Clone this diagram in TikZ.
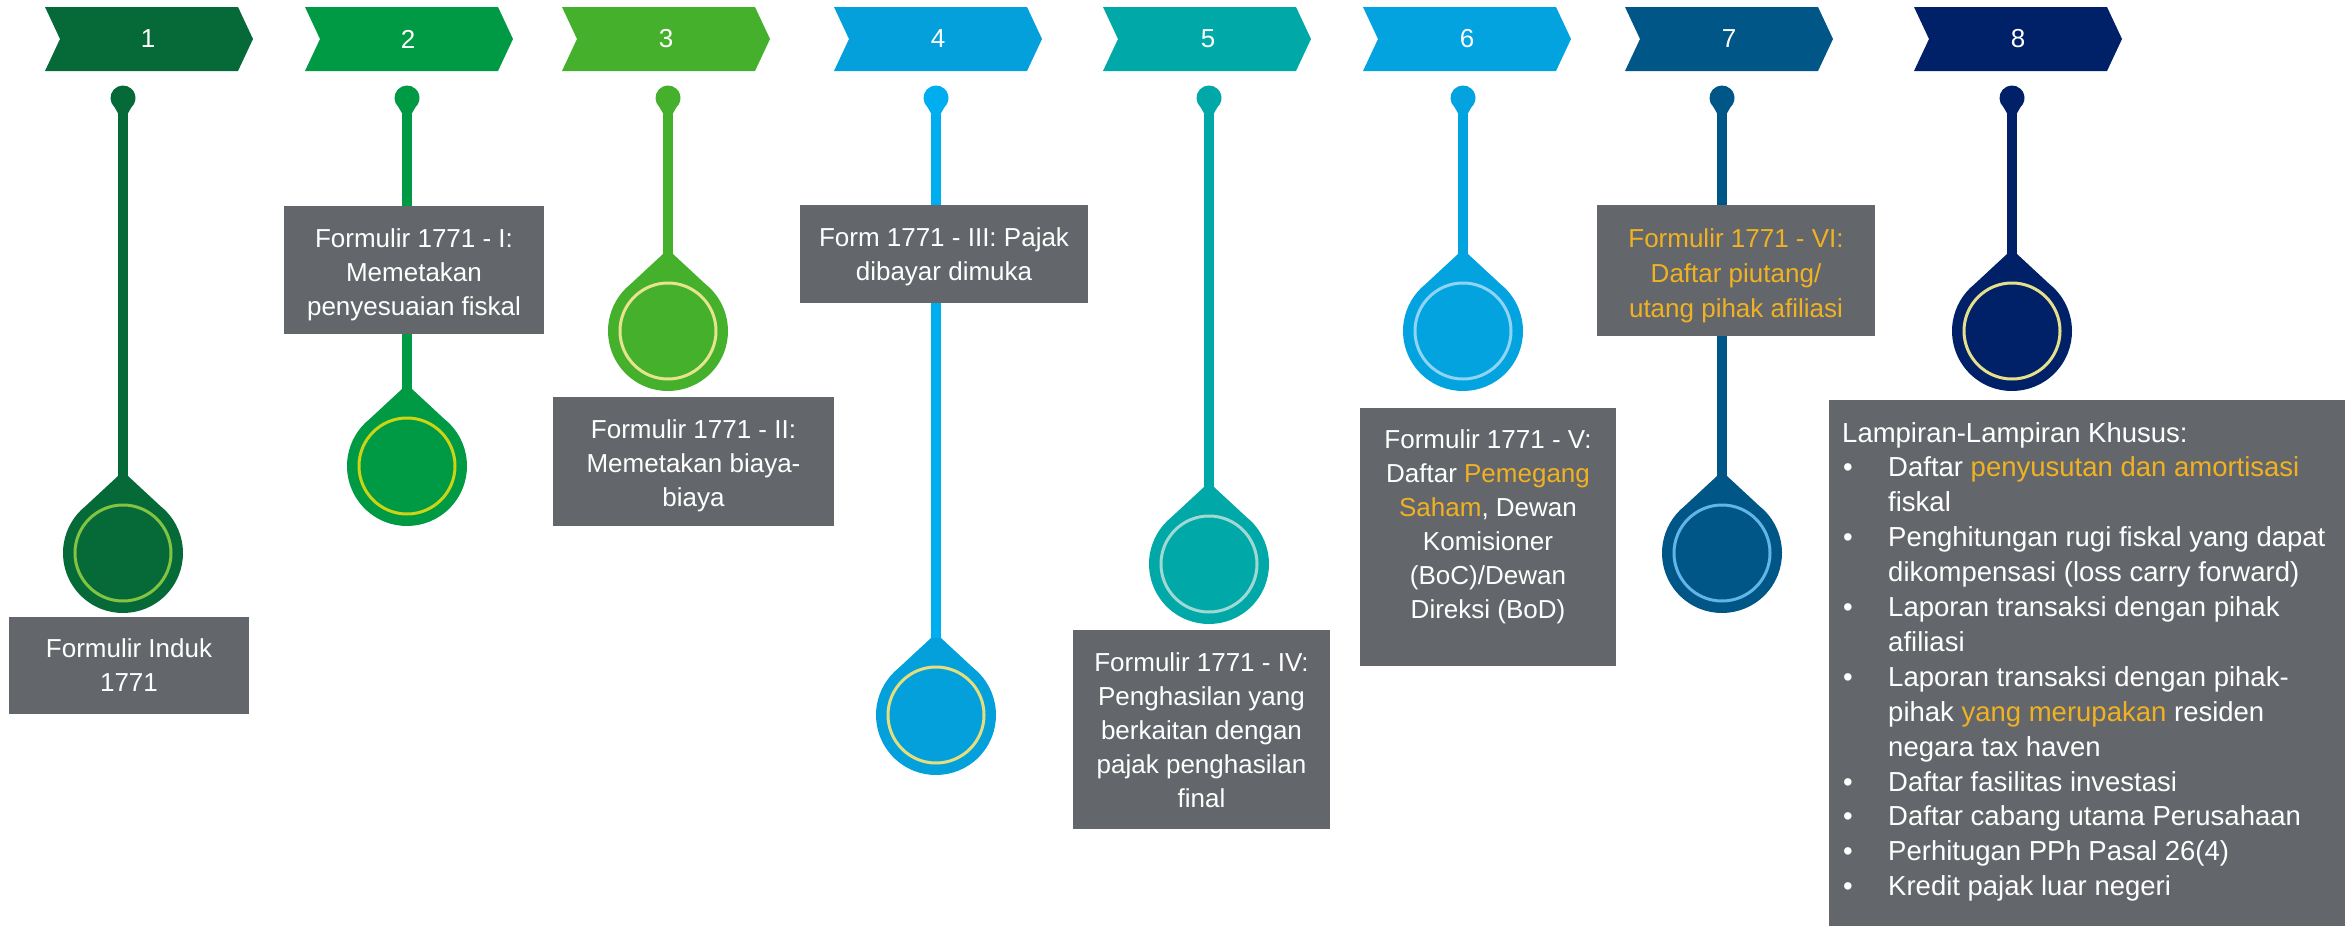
\documentclass[tikz,border=0pt]{standalone}
\usepackage{fontspec}
\setmainfont{Liberation Sans}
\usetikzlibrary{calc}
\definecolor{c1}{RGB}{6,106,56}
\definecolor{c2}{RGB}{0,154,68}
\definecolor{c3}{RGB}{68,176,44}
\definecolor{c4}{RGB}{4,160,220}
\definecolor{c4s}{RGB}{0,174,239}
\definecolor{c5}{RGB}{0,169,167}
\definecolor{c6}{RGB}{3,163,223}
\definecolor{c7}{RGB}{0,86,135}
\definecolor{c8}{RGB}{0,33,104}
\definecolor{r1}{RGB}{130,196,66}
\definecolor{r2}{RGB}{205,212,20}
\definecolor{r3}{RGB}{232,227,143}
\definecolor{r4}{RGB}{229,222,124}
\definecolor{r5}{RGB}{160,217,212}
\definecolor{r6}{RGB}{143,212,245}
\definecolor{r7}{RGB}{97,181,232}
\definecolor{r8}{RGB}{231,224,138}
\definecolor{boxgray}{RGB}{99,102,106}
\definecolor{hl}{RGB}{240,178,35}
\newcommand{\hlt}[1]{\textcolor{hl}{#1}}
\begin{document}
\begin{tikzpicture}[x=1pt,y=1pt,
  every node/.style={font=\fontsize{26}{34}\selectfont, text=white},
  box/.style={fill=boxgray, inner sep=0pt},
  txt/.style={align=center, inner sep=0pt},
  stem/.style={line width=10pt},
  lline/.style={anchor=base west, inner sep=0pt, font=\fontsize{27.5}{35}\selectfont}]
\fill[white] (0,0) rectangle (2351,-926);
\useasboundingbox (0,0) rectangle (2351,-926);
% chevrons
\foreach \L/\col/\lx/\n in {45/c1/148/1, 305/c2/408/2, 562/c3/666/3, 834/c4/938/4, 1103/c5/1208/5, 1363/c6/1467/6, 1625/c7/1729/7, 1914/c8/2018/8} {
  \fill[\col] (\L,-7) -- ++(193,0) -- ++(15,-32) -- ++(-15,-32) -- ++(-193,0) -- ++(15,32) -- cycle;
  \node (chev\n) at (\lx,-39) {\n};
}
% pins, stems and drops
\foreach \n/\cx/\cy/\col/\scol/\ring in {1/123/553/c1/c1/r1, 2/407/466/c2/c2/r2, 3/668/331/c3/c3/r3, 4/936/715/c4/c4s/r4, 5/1209/564/c5/c5/r5, 6/1463/331/c6/c6/r6, 7/1722/553/c7/c7/r7, 8/2012/331/c8/c8/r8} {
  \coordinate (top\n) at (\cx,-113);
  \coordinate (apex\n) at (\cx,-\cy+77);
  \coordinate (ctr\n) at (\cx,-\cy);
  \draw[\scol, stem] (top\n) -- (apex\n);
  \fill[\scol] (\cx-4,-115) -- ($(\cx,-98)+(-132.7:12.5pt)$) arc[start angle=-132.7, end angle=-407.3, radius=12.5pt] -- (\cx+4,-115) -- cycle;
  \fill[\col] (\cx+5,-\cy+77) -- ($(ctr\n)+(51.1:60pt)$) arc[start angle=51.1, end angle=-231.1, radius=60pt] -- (\cx-5,-\cy+77) -- cycle;
  \draw[\ring, line width=3pt] (ctr\n) circle[radius=48pt];
}
% boxes
\node[box, minimum width=240pt, minimum height=97pt] (b1) at (129,-665.5) {};
\node[txt] (t1) at (129,-665.5) {Formulir Induk\\1771};
\node[box, minimum width=260pt, minimum height=128pt] (b2) at (414,-269.5) {};
\node[txt] (t2) at (414,-274.7) {Formulir 1771 - I:\\Memetakan\\penyesuaian fiskal};
\node[box, minimum width=281pt, minimum height=129pt] (b3) at (693.5,-461.5) {};
\node[txt] (t3) at (693.5,-465.7) {Formulir 1771 - II:\\Memetakan biaya-\\biaya};
\node[box, minimum width=288pt, minimum height=98pt] (b4) at (944,-254) {};
\node[txt] (t4) at (944,-257.2) {Form 1771 - III: Pajak\\dibayar dimuka};
\node[box, minimum width=257pt, minimum height=199pt] (b5) at (1201.5,-729.5) {};
\node[txt] (t5) at (1201.5,-730) {Formulir 1771 - IV:\\Penghasilan yang\\berkaitan dengan\\pajak penghasilan\\final};
\node[box, minimum width=256pt, minimum height=258pt] (b6) at (1488,-537) {};
\node[txt] (t6) at (1488,-526.7) {Formulir 1771 - V:\\Daftar \hlt{Pemegang}\\\hlt{Saham}, Dewan\\Komisioner\\(BoC)/Dewan\\Direksi (BoD)};
\node[box, minimum width=278pt, minimum height=131pt] (b7) at (1736,-270.5) {};
\node[txt, text=hl, font=\fontsize{26}{35}\selectfont] (t7) at (1736,-275.7) {Formulir 1771 - VI:\\Daftar piutang/\\utang pihak afiliasi};
\node[box, minimum width=516pt, minimum height=526pt] (b8) at (2087,-663) {};
% box 8 list
\node[lline] (h8) at (1842,-442) {Lampiran-Lampiran Khusus:};
\foreach \k/\b/\t in {
  1/1/{Daftar \hlt{penyusutan dan amortisasi}},
  2/0/{fiskal},
  3/1/{Penghitungan rugi fiskal yang dapat},
  4/0/{dikompensasi (loss carry forward)},
  5/1/{Laporan transaksi dengan pihak},
  6/0/{afiliasi},
  7/1/{Laporan transaksi dengan pihak-},
  8/0/{pihak \hlt{yang merupakan} residen},
  9/0/{negara tax haven},
  10/1/{Daftar fasilitas investasi},
  11/1/{Daftar cabang utama Perusahaan},
  12/1/{Perhitugan PPh Pasal 26(4)},
  13/1/{Kredit pajak luar negeri}} {
  \node[lline] (l\k) at (1888,{-442-34.9*\k}) {\t};
  \ifnum\b=1
    \node[lline] (bu\k) at (1843,{-442-34.9*\k}) {•};
  \fi
}
\end{tikzpicture}
\end{document}
